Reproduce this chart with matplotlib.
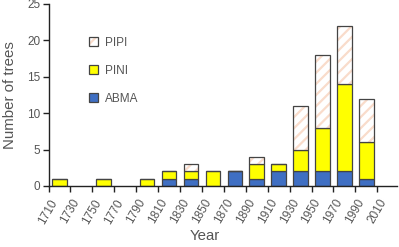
import matplotlib.pyplot as plt
import matplotlib.transforms as mtransforms
import numpy as np
from matplotlib.patches import Patch
from matplotlib.legend_handler import HandlerTuple

plt.rcParams['font.family'] = ['Liberation Sans', 'DejaVu Sans']
plt.rcParams['hatch.linewidth'] = 1.6

years = [1710, 1750, 1790, 1810, 1830, 1850, 1870, 1890, 1910, 1930, 1950, 1970, 1990]
abma = [0, 0, 0, 1, 1, 0, 2, 1, 2, 2, 2, 2, 1]
pini = [1, 1, 1, 1, 1, 2, 0, 2, 1, 3, 6, 12, 5]
pipi = [0, 0, 0, 0, 1, 0, 0, 1, 0, 6, 10, 8, 6]
tick_years = list(range(1710, 2011, 20))

blue = "#3f6fc3"
yellow = "#ffff00"
hatch_col = "#f9dccb"
edge = "#444444"
txt = "#555555"

fig = plt.figure(figsize=(3.99, 2.47), dpi=100)
ax = fig.add_axes([0.1216, 0.247, 0.8734, 0.737])

# bars sit between the 20-year ticks
x = np.array(years) + 10
w = 13.3
abma = np.array(abma)
pini = np.array(pini)
pipi = np.array(pipi)

ax.bar(x, abma, w, color=blue, edgecolor=edge, linewidth=0.9)
ax.bar(x, pini, w, bottom=abma, color=yellow, edgecolor=edge, linewidth=0.9)
# hatch drawn first in light colour, outline on top in dark
ax.bar(x, pipi, w, bottom=abma + pini, color="white", edgecolor=hatch_col,
       hatch="///", linewidth=0)
ax.bar(x, pipi, w, bottom=abma + pini, color="none", edgecolor=edge, linewidth=0.9)

ax.set_xlim(1710, 2028)
ax.set_ylim(0, 25)
ax.set_yticks(range(0, 26, 5))
ax.set_xticks(tick_years)
ax.set_xticklabels([str(t) for t in tick_years], rotation=60, ha="center", va="top")
shift = mtransforms.ScaledTranslation(0.03, 0, fig.dpi_scale_trans)
for lab in ax.get_xticklabels():
    lab.set_transform(lab.get_transform() + shift)
ax.tick_params(axis="both", direction="out", length=4, width=1, color="#222222",
               labelsize=8.5, labelcolor=txt, pad=2)
ax.tick_params(axis="x", pad=4)
ax.spines["top"].set_visible(False)
ax.spines["right"].set_visible(False)
for s in ["left", "bottom"]:
    ax.spines[s].set_color("#222222")
    ax.spines[s].set_linewidth(1)

ax.set_xlabel("Year", fontsize=10.8, color=txt)
ax.set_ylabel("Number of trees", fontsize=10.8, color=txt)
ax.xaxis.set_label_coords(0.449, -0.236)
ax.yaxis.set_label_coords(-0.09, 0.5)

h_pipi = (Patch(facecolor="white", edgecolor=hatch_col, hatch="///", linewidth=0),
          Patch(facecolor="none", edgecolor=edge, linewidth=0.9))
h_pini = Patch(facecolor=yellow, edgecolor=edge, linewidth=0.9)
h_abma = Patch(facecolor=blue, edgecolor=edge, linewidth=0.9)
leg = ax.legend([h_pipi, h_pini, h_abma], ["PIPI", "PINI", "ABMA"],
                handler_map={tuple: HandlerTuple(ndivide=1)},
                loc="upper left", bbox_to_anchor=(0.116, 0.819), borderaxespad=0,
                borderpad=0, frameon=False, fontsize=8.5, labelspacing=1.35,
                handlelength=0.75, handleheight=0.75, handletextpad=0.6,
                labelcolor=txt)

fig.savefig("out.png", dpi=100)
